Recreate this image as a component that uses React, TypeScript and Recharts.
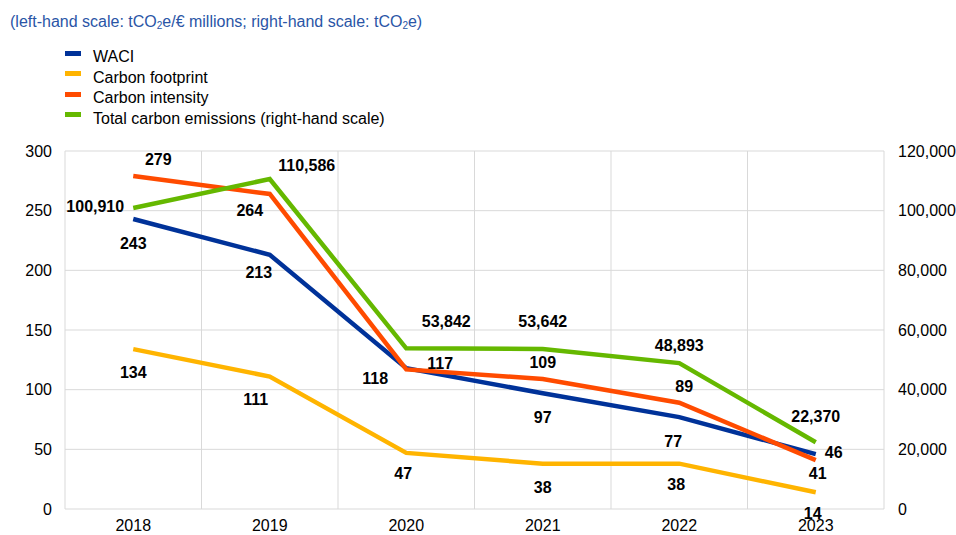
import { LineChart, Line, XAxis, YAxis, CartesianGrid, LabelList } from 'recharts'

const years = ['2018', '2019', '2020', '2021', '2022', '2023']
const waci = [243, 213, 118, 97, 77, 46]
const footprint = [134, 111, 47, 38, 38, 14]
const intensity = [279, 264, 117, 109, 89, 41]
const totalEmissions = [100910, 110586, 53842, 53642, 48893, 22370]

const leftTicks = [0, 50, 100, 150, 200, 250, 300]
const rightTicks = [0, 20000, 40000, 60000, 80000, 100000, 120000]

const data = years.map((year, i) => ({
  year,
  waci: waci[i],
  footprint: footprint[i],
  intensity: intensity[i],
  total: totalEmissions[i],
}))

// label offsets [dx, dy] from each point
const waciPos = [[0, 24], [-11, 18], [-31, 10], [0, 24], [-6, 24], [18, -2]]
const footprintPos = [[0, 23], [-14, 23], [-3, 21], [0, 24], [-3, 21], [-3, 21]]
const intensityPos = [[25, -17], [-20, 17], [34, -6], [0, -16], [5, -16], [2, 13]]
const totalPos = [[-38, -1], [37, -14], [40, -27], [0, -27], [0, -18], [0, -26]]

const FONT = '"Liberation Sans", Arial, sans-serif'

const COLORS = {
  waci: '#003299',
  footprint: '#ffb400',
  intensity: '#ff4b00',
  total: '#65b800',
}

const legendItems = [
  { name: 'WACI', color: COLORS.waci },
  { name: 'Carbon footprint', color: COLORS.footprint },
  { name: 'Carbon intensity', color: COLORS.intensity },
  { name: 'Total carbon emissions (right-hand scale)', color: COLORS.total },
]

const fmt = (v: number) => v.toLocaleString('en-US')

function makeLabel(pos: number[][]) {
  return (props: any) => {
    const { x, y, value, index } = props
    const [dx, dy] = pos[index] || [0, 0]
    return (
      <text
        x={x + dx}
        y={y + dy}
        textAnchor="middle"
        dominantBaseline="central"
        fontFamily={FONT}
        fontSize={16}
        fontWeight="bold"
        fill="#000"
      >
        {fmt(Number(value))}
      </text>
    )
  }
}

const subStyle = { fontSize: 10, verticalAlign: 'baseline', position: 'relative' as const, top: 2 }

export default function App() {
  return (
    <div style={{ position: 'absolute', left: 0, top: 0, width: 956, height: 535, background: '#fff', fontFamily: FONT }}>
      <div style={{ position: 'absolute', left: 10, top: 13, fontSize: 16, color: '#2a55a6', whiteSpace: 'nowrap' }}>
        (left-hand scale: tCO<sub style={subStyle}>2</sub>e/€ millions; right-hand scale: tCO<sub style={subStyle}>2</sub>e)
      </div>
      <div style={{ position: 'absolute', left: 65, top: 47 }}>
        {legendItems.map(item => (
          <div key={item.name} style={{ display: 'flex', alignItems: 'center', height: 20.5, fontSize: 16, color: '#000' }}>
            <span style={{ display: 'inline-block', width: 16, height: 5, background: item.color, marginRight: 12, position: 'relative', top: -4 }} />
            <span>{item.name}</span>
          </div>
        ))}
      </div>
      <div style={{ position: 'absolute', left: 0, top: 0 }}>
        <LineChart width={956} height={535} data={data} margin={{ top: 151, right: 0, bottom: 0, left: 0 }}>
          <CartesianGrid
            yAxisId="left"
            stroke="#d9d9d9"
            strokeWidth={1}
            verticalCoordinatesGenerator={({ offset }: any) =>
              years.map((_, i) => offset.left + (i * offset.width) / years.length).concat(offset.left + offset.width)
            }
          />
          <XAxis
            dataKey="year"
            scale="band"
            height={26}
            axisLine={false}
            tickLine={false}
            tickSize={0}
            tickMargin={11}
            tick={{ fill: '#000', fontSize: 16, fontFamily: FONT }}
            interval={0}
          />
          <YAxis
            yAxisId="left"
            width={65}
            domain={[0, 300]}
            ticks={leftTicks}
            axisLine={false}
            tickLine={false}
            tickSize={0}
            tickMargin={13}
            tick={{ fill: '#000', fontSize: 16, fontFamily: FONT }}
          />
          <YAxis
            yAxisId="right"
            orientation="right"
            width={72}
            domain={[0, 120000]}
            ticks={rightTicks}
            tickFormatter={fmt}
            axisLine={false}
            tickLine={false}
            tickSize={0}
            tickMargin={14}
            tick={{ fill: '#000', fontSize: 16, fontFamily: FONT, textAnchor: 'start' }}
          />
          <Line yAxisId="left" dataKey="waci" stroke={COLORS.waci} strokeWidth={4.5} dot={false} isAnimationActive={false}>
            <LabelList dataKey="waci" content={makeLabel(waciPos)} />
          </Line>
          <Line yAxisId="left" dataKey="footprint" stroke={COLORS.footprint} strokeWidth={4.5} dot={false} isAnimationActive={false}>
            <LabelList dataKey="footprint" content={makeLabel(footprintPos)} />
          </Line>
          <Line yAxisId="left" dataKey="intensity" stroke={COLORS.intensity} strokeWidth={4.5} dot={false} isAnimationActive={false}>
            <LabelList dataKey="intensity" content={makeLabel(intensityPos)} />
          </Line>
          <Line yAxisId="right" dataKey="total" stroke={COLORS.total} strokeWidth={4.5} dot={false} isAnimationActive={false}>
            <LabelList dataKey="total" content={makeLabel(totalPos)} />
          </Line>
        </LineChart>
      </div>
    </div>
  )
}
